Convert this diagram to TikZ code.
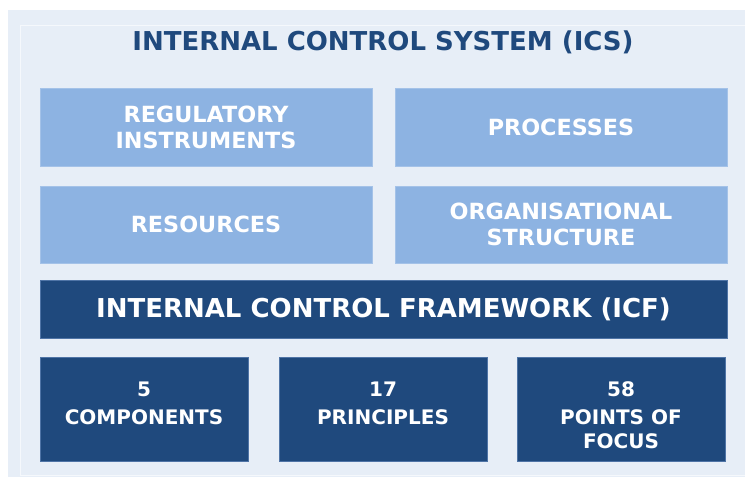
\documentclass[tikz,border=0pt]{standalone}
\usepackage{fontspec}
\setmainfont{DejaVu Sans}
\usepackage{tikz}
\usetikzlibrary{positioning}
\definecolor{icsback}{HTML}{E7EEF7}
\definecolor{icslight}{HTML}{8DB3E2}
\definecolor{icsdark}{HTML}{1F497D}
\definecolor{icsdarkline}{HTML}{4F74A6}

\begin{document}
\begin{tikzpicture}[
			x=1pt, y=-1pt,
			% GLOBAL CFG
			font=\bfseries\fontsize{22.3}{26}\selectfont,
			% Styles
			lightbox/.style={% upper boxes
				rectangle,
				draw=icslight!80!white,
				fill=icslight,
				text=white,
				align=center,
				minimum width=332pt,
				minimum height=78pt,
			},
			darkbox/.style={% framework boxes
				rectangle,
				draw=icsdarkline,
				fill=icsdark,
				minimum height=104pt,
				minimum width=208pt,
			},
			boxtext/.style={% text of the framework boxes
				text=white,
				align=center,
				inner sep=0pt,
				font=\bfseries\fontsize{20}{24}\selectfont,
			},
			bigtext/.style={% title lines
				font=\bfseries\fontsize{26}{30}\selectfont,
			},
			]
			% background
			\useasboundingbox (0,0) rectangle (745,477);
			\fill[icsback] (8,10) rectangle (745,477);
			\draw[white!60!icsback, line width=1pt] (20,25) -- (745,25);
			\draw[white!60!icsback, line width=1pt] (20,25) -- (20,475) -- (745,475);
			
			% Title
			\node[bigtext, text=icsdark] (title) at (383,42.5) {INTERNAL CONTROL SYSTEM (ICS)};
			
			% Upper boxes
			\node[lightbox] (reg) at (206,127) {REGULATORY\\INSTRUMENTS};
			\node[lightbox] (proc) at (561,127) {PROCESSES};
			\node[lightbox, minimum height=77pt] (res) at (206,224.5) {RESOURCES};
			\node[lightbox, minimum height=77pt] (org) at (561,224.5) {ORGANISATIONAL\\STRUCTURE};
			
			% Framework
			\node[darkbox, bigtext, text=white, minimum width=687pt, minimum height=58pt] (icf) at (383.5,309) {INTERNAL CONTROL FRAMEWORK (ICF)};
			
			% Lower boxes
			\node[darkbox] (comp) at (144,409) {};
			\node[darkbox] (princ) at (383,409) {};
			\node[darkbox] (focus) at (621,409) {};
			\node[boxtext, below=24.5pt of comp.north] (comptext) {5\\[4pt]COMPONENTS};
			\node[boxtext, below=24.5pt of princ.north] (princtext) {17\\[4pt]PRINCIPLES};
			\node[boxtext, below=24.5pt of focus.north] (focustext) {58\\[4pt]POINTS OF\\FOCUS};
			
		\end{tikzpicture}
\end{document}
